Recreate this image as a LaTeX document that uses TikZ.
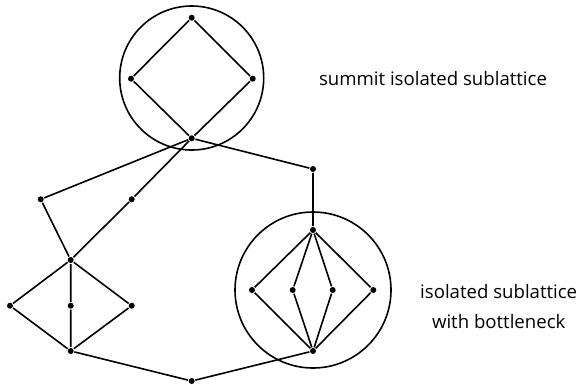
\documentclass[tikz,border=0pt]{standalone}
\usepackage{fontspec}
\setmainfont{Open Sans}
\begin{document}
\begin{tikzpicture}[x=1pt,y=-1pt,line width=1.6pt,
  dot/.style={circle,fill,inner sep=0pt,minimum size=6pt},
  ring/.style={draw,circle,inner sep=0pt,line width=1.6pt},
  lbl/.style={align=center,font=\fontsize{18.6}{30}\selectfont}]
  \useasboundingbox (0,0) rectangle (585,384);
  % summit sublattice
  \node[ring,minimum size=144pt] (top) at (191.7,78) {};
  \node[dot] (s1) at (191.7,17.7) {};
  \node[dot] (s2) at (131,78.7) {};
  \node[dot] (s3) at (252.7,78.7) {};
  \node[dot] (s4) at (191.7,138.3) {};
  % middle
  \node[dot] (m1) at (313,169) {};
  \node[dot] (m2) at (40.7,199.3) {};
  \node[dot] (m3) at (131.7,199.3) {};
  % lower left
  \node[dot] (l1) at (70.7,260) {};
  \node[dot] (l2) at (10,305.7) {};
  \node[dot] (l3) at (70.7,305.7) {};
  \node[dot] (l4) at (131.7,305.7) {};
  \node[dot] (l5) at (70.7,351) {};
  \node[dot] (b) at (191.7,381) {};
  % bottleneck sublattice
  \node[ring,minimum size=156pt] (bot) at (313,290) {};
  \node[dot] (r1) at (313,230) {};
  \node[dot] (r2) at (252,290) {};
  \node[dot] (r3) at (292.7,290) {};
  \node[dot] (r4) at (332.7,290) {};
  \node[dot] (r5) at (373.3,290) {};
  \node[dot] (r6) at (313,351) {};
  \draw (s1) -- (s2) -- (s4) -- (s3) -- (s1);
  \draw (s4) -- (m1) -- (r1);
  \draw (s4) -- (m2) -- (l1);
  \draw (s4) -- (m3) -- (l1);
  \draw (l1) -- (l2) -- (l5) -- (l4) -- (l1) -- (l3) -- (l5);
  \draw (l5) -- (b) -- (r6);
  \foreach \n in {r2,r3,r4,r5}
    \draw (r1) -- (\n) -- (r6);
  \node[lbl] (t1) at (433,79) {summit isolated sublattice};
  \node[lbl] (t2) at (498.7,307) {isolated sublattice\\with bottleneck};
\end{tikzpicture}
\end{document}
